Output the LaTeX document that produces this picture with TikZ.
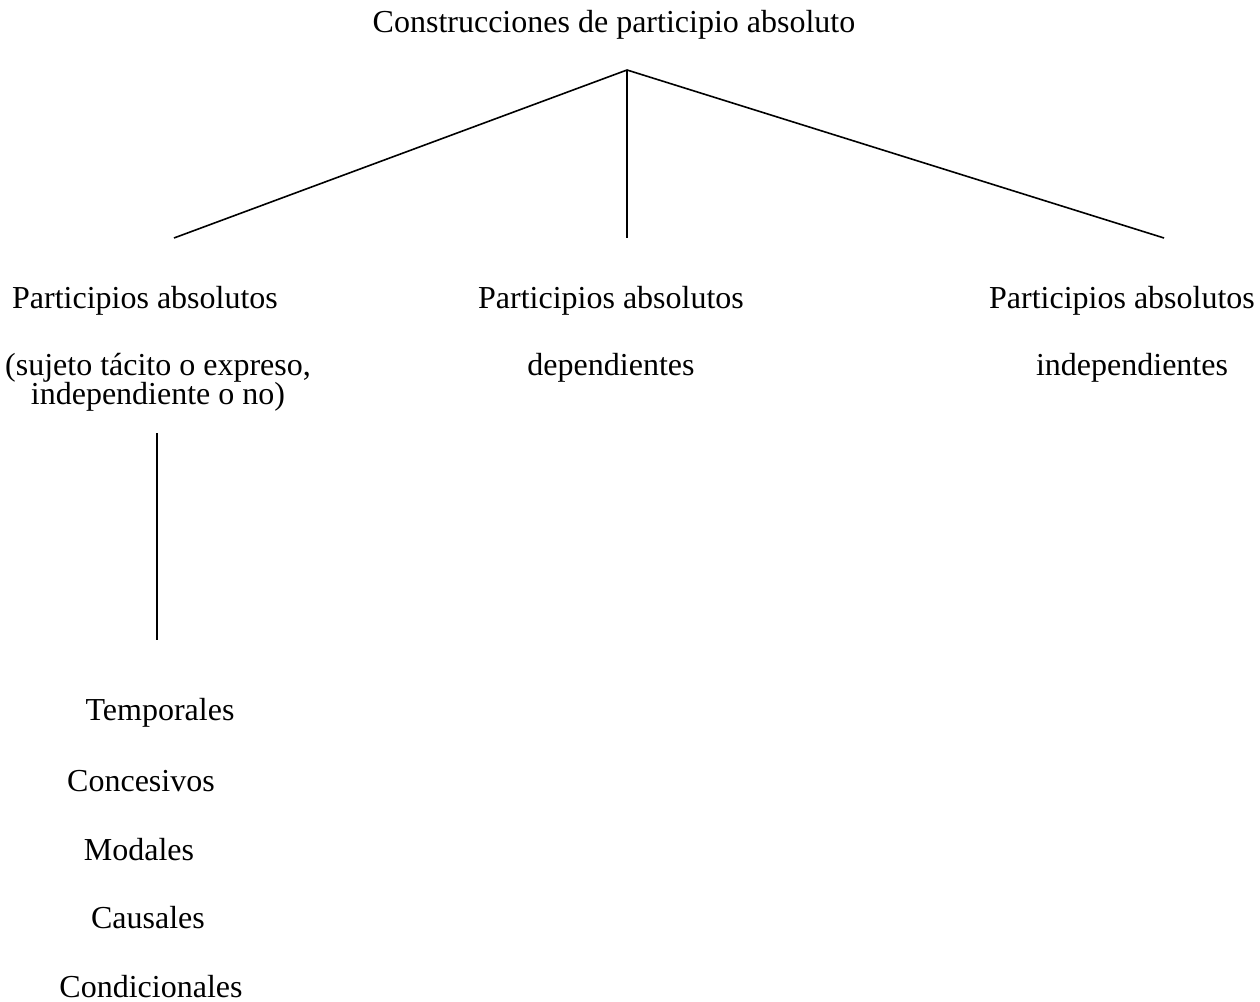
\documentclass[tikz,border=0pt]{standalone}
\usepackage{fontspec}
\setmainfont{Liberation Serif}

\begin{document}
\begin{tikzpicture}[x=0.375pt,y=-0.375pt,line width=0.6pt,
  every node/.style={font=\fontsize{12}{14}\selectfont,inner sep=0pt}]
                \useasboundingbox (0,0) rectangle (1260,1001);
                % top of the tree
                \node (title) at (614,25) {Construcciones de participio absoluto};
                \coordinate (apex) at (627,70);
                \coordinate (leftend) at (174,238);
                \coordinate (midend) at (627,238);
                \coordinate (rightend) at (1164,238);
                \draw (apex)--(leftend);
                \draw (apex)--(midend);
                \draw (apex)--(rightend);
                % three branches
                \node (left1) at (145,301) {Participios absolutos};
                \node (left2) at (158,368) {(sujeto tácito o expreso,};
                \node (left3) at (158,397) {independiente o no)};
                \node (mid1) at (611,301) {Participios absolutos};
                \node (mid2) at (611,368) {dependientes};
                \node (right1) at (1122,301) {Participios absolutos};
                \node (right2) at (1132,368) {independientes};
                % the left branch goes on
                \coordinate (stemtop) at (157,433);
                \coordinate (stembot) at (157,640);
                \draw (stemtop)--(stembot);
                \node (temp) at (160,713) {Temporales};
                \node (conc) at (141,781) {Concesivos};
                \node (moda) at (139,850) {Modales};
                \node (caus) at (148,918) {Causales};
                \node (cond) at (151,987) {Condicionales};
\end{tikzpicture}
\end{document}
